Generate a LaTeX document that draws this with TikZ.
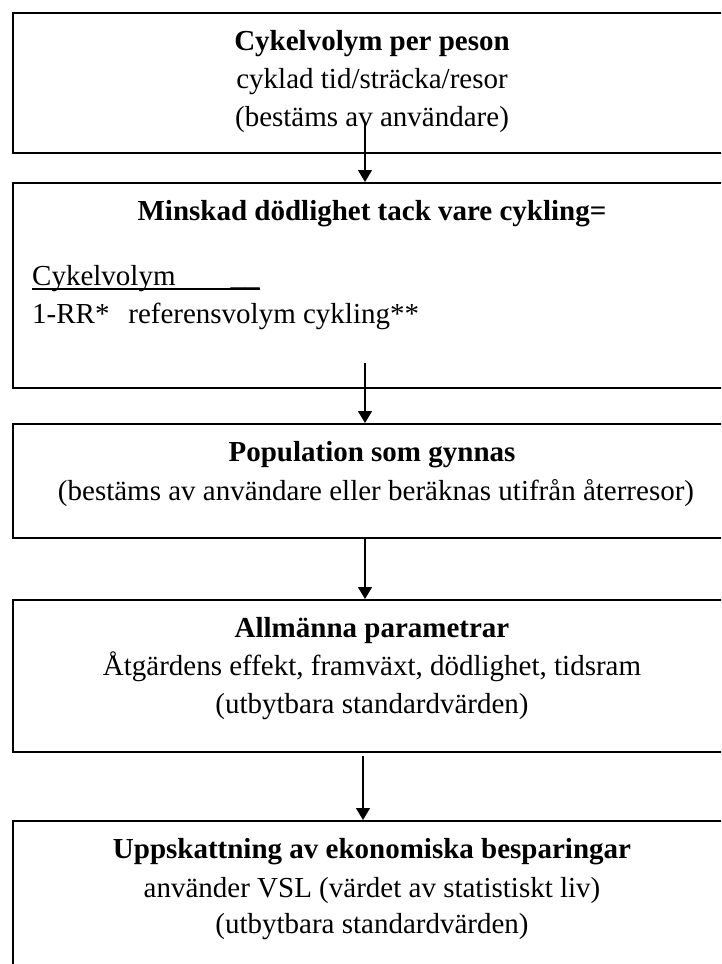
\documentclass[tikz,border=0pt]{standalone}
\usepackage{fontspec}
\setmainfont{Liberation Serif}
\usetikzlibrary{arrows.meta,calc}
\begin{document}
\begin{tikzpicture}[x=1pt,y=-1pt,
  box/.style={draw, line width=1.6pt, inner sep=0pt, anchor=north west, minimum width=720pt},
  txt/.style={inner sep=0pt, anchor=base, font=\fontsize{29}{38}\selectfont},
  ttl/.style={txt, font=\fontsize{29}{38}\selectfont\bfseries},
  arr/.style={line width=1.4pt, -{Triangle[length=12pt,width=14pt]}}]
\useasboundingbox (0,0) rectangle (721,964);
\clip (0,0) rectangle (721,964);
% boxes
\node[box, minimum height=140pt] (b1) at (12,12) {};
\node[box, minimum height=205pt] (b2) at (12,182) {};
\node[box, minimum height=114pt] (b3) at (12,423) {};
\node[box, minimum height=152pt] (b4) at (12,599) {};
\node[box, minimum height=200pt] (b5) at (12,820) {};
% box 1 text
\node[ttl] (t1a) at (372,50) {Cykelvolym per peson};
\node[txt] (t1b) at (372,88) {cyklad tid/sträcka/resor};
\node[txt] (t1c) at (372,126) {(bestäms av användare)};
% box 2 text
\node[ttl] (t2a) at (372,220) {Minskad dödlighet tack vare cykling=};
\node[txt, anchor=base west] (t2b) at (32,285) {Cykelvolym\hspace{1.9em}\_\_};
\draw[line width=1.2pt] ($(t2b.base west)+(0,4)$) -- ($(t2b.base east)+(0,4)$);
\node[txt, anchor=base west] (t2c) at (32,323) {1-RR*\hspace{0.4em} referensvolym cykling**};
% box 3 text
\node[ttl] (t3a) at (372,461) {Population som gynnas};
\node[txt] (t3b) at (376,500) {(bestäms av användare eller beräknas utifrån återresor)};
% box 4 text
\node[ttl] (t4a) at (372,637) {Allmänna parametrar};
\node[txt] (t4b) at (372,675) {Åtgärdens effekt, framväxt, dödlighet, tidsram};
\node[txt] (t4c) at (372,713) {(utbytbara standardvärden)};
% box 5 text
\node[ttl] (t5a) at (372,858) {Uppskattning av ekonomiska besparingar};
\node[txt] (t5b) at (372,897) {använder VSL (värdet av statistiskt liv)};
\node[txt] (t5c) at (372,933) {(utbytbara standardvärden)};
% arrows
\coordinate (s1) at (365,122);
\coordinate (s2) at (365,363);
\coordinate (s3) at (365,537);
\coordinate (s4) at (363,756);
\draw[arr] (s1) -- (s1 |- b2.north);
\draw[arr] (s2) -- (s2 |- b3.north);
\draw[arr] (s3) -- (s3 |- b4.north);
\draw[arr] (s4) -- (s4 |- b5.north);
\end{tikzpicture}
\end{document}
